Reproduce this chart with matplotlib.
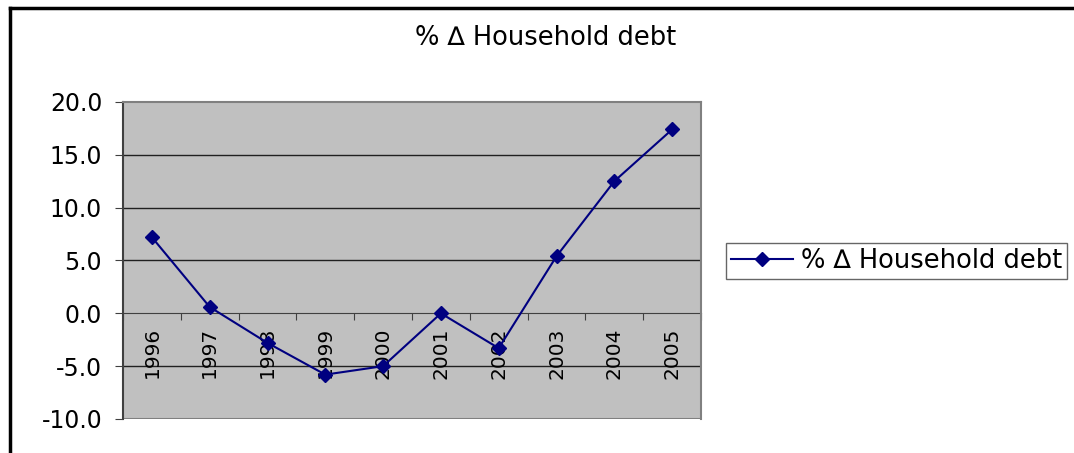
import numpy as np
import matplotlib.pyplot as plt
from matplotlib.lines import Line2D

years = ["1996", "1997", "1998", "1999", "2000", "2001", "2002", "2003", "2004", "2005"]
debt_change = [7.2, 0.6, -2.8, -5.8, -5.0, 0.0, -3.3, 5.4, 12.5, 17.4]
series_name = "% \u2206 Household debt"

plt.rcParams['font.family'] = ['DejaVu Sans']

fig = plt.figure(figsize=(10.74, 4.53), dpi=100)
W, H = 1074, 453
# plot area in pixels: left 123, right 701, top 102, bottom 419
ax = fig.add_axes([123 / W, 1 - 419 / H, (701 - 123) / W, (419 - 102) / H])
ax.set_facecolor('#c0c0c0')

x = np.arange(len(years))
ax.plot(x, debt_change, color='#000080', lw=1.5, marker='D', ms=7.5,
        label=series_name, zorder=5, clip_on=False)

yt = np.arange(-10, 21, 5)
ax.set_ylim(-10, 20)
ax.set_yticks(yt)
ax.set_yticklabels([f"{v:.1f}" for v in yt])
for v in [15, 10, 5, -5]:
    ax.axhline(v, color='#202020', lw=1, zorder=1)

ax.set_xlim(-0.5, len(years) - 0.5)
ax.set_xticks(np.arange(-0.5, len(years), 1.0))
ax.set_xticklabels([])
ax.set_xticks(x, minor=True)
ax.set_xticklabels(years, minor=True)
ax.tick_params(axis='x', which='major', direction='out', length=5, color='#404040')
ax.tick_params(axis='x', which='minor', length=0, pad=10, labelrotation=90, labelsize=14.5)
ax.tick_params(axis='y', direction='out', length=6, color='#404040', pad=9, labelsize=17)

ax.spines['bottom'].set_position(('data', 0))
ax.spines['bottom'].set_color('#404040')
ax.spines['bottom'].set_zorder(2)
ax.spines['left'].set_color('#404040')
ax.spines['left'].set_linewidth(1.5)
for s in ['top', 'right']:
    ax.spines[s].set_color('#808080')
    ax.spines[s].set_linewidth(1.5)

# bottom edge of plot area
ax.axhline(-10, color='#808080', lw=1.5, zorder=1)

fig.text(546 / W, 1 - 38 / H, series_name, ha='center', va='center', fontsize=18.5)

leg = fig.legend(loc='upper left', bbox_to_anchor=(726 / W, 1 - 243 / H),
                 fontsize=18.5, frameon=True, fancybox=False, borderaxespad=0,
                 handlelength=2.4, borderpad=0.2, handletextpad=0.3)
leg.get_frame().set_edgecolor('#404040')
leg.get_frame().set_linewidth(1)

# chart border (cropped at right and bottom)
fig.add_artist(Line2D([10 / W, 10 / W], [0, 1 - 8 / H], color='black', lw=2.5,
                      transform=fig.transFigure))
fig.add_artist(Line2D([10 / W, 1], [1 - 8 / H, 1 - 8 / H], color='black', lw=2.5,
                      transform=fig.transFigure))

fig.savefig('out.png', dpi=100)
